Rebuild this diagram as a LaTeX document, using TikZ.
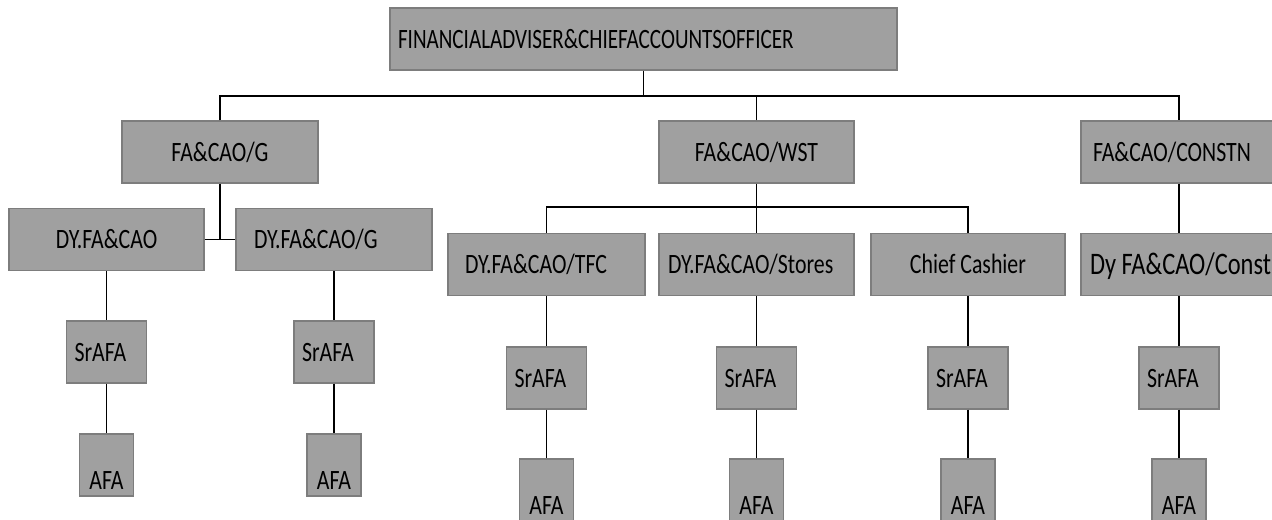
\documentclass[tikz,border=0pt]{standalone}
\usepackage{fontspec}
\setmainfont{Carlito}[FakeStretch=0.78]
\definecolor{boxfill}{RGB}{160,160,160}
\definecolor{boxline}{RGB}{125,125,125}
\tikzset{
  box/.style={draw=boxline, fill=boxfill, line width=1.1pt, inner ysep=0pt, inner xsep=0pt,
    minimum height=46.5pt, text height=13.5pt, text depth=0pt,
    font=\fontsize{21}{24}\selectfont, anchor=center},
  srbox/.style={box, minimum width=60pt, inner xsep=6pt},
  afabox/.style={box, minimum width=40.5pt, text height=36pt},
  link/.style={line width=1.1pt, black},
}
\begin{document}
\begin{tikzpicture}[x=0.75pt, y=-0.75pt]
\path[use as bounding box, clip] (0,0) rectangle (1272,519);
% level 0
\node[box, minimum width=380.25pt, inner xsep=6pt] (top) at (643.5,39)
  {\makebox[368.25pt][l]{\scalebox{0.966}[1]{FINANCIALADVISER\&CHIEFACCOUNTSOFFICER}}};
% level 1
\node[box, minimum width=147pt] (g) at (220,152) {FA\&CAO/G};
\node[box, minimum width=146.25pt] (wst) at (756.5,152) {FA\&CAO/WST};
\node[box, minimum width=147pt, inner xsep=9pt] (cn) at (1179,152)
  {\makebox[129pt][l]{FA\&CAO/CONSTN}};
% level 2, left branch
\node[box, minimum width=146.25pt] (dya) at (106.5,239.5) {DY.FA\&CAO};
\node[box, minimum width=147pt, inner xsep=13.5pt] (dyb) at (334,239.5)
  {\makebox[120pt][l]{DY.FA\&CAO/G}};
% level 2, middle and right
\node[box, minimum width=147.75pt, inner xsep=12.75pt] (tfc) at (546.5,264.5)
  {\makebox[122.25pt][l]{DY.FA\&CAO/TFC}};
\node[box, minimum width=146.25pt, inner xsep=6.75pt] (sto) at (756.5,264.5)
  {\makebox[132.75pt][l]{DY.FA\&CAO/Stores}};
\node[box, minimum width=145.5pt] (cash) at (968,264.5) {Chief Cashier};
\node[box, minimum width=147pt, inner xsep=6.75pt, font=\fontsize{23.5}{26}\selectfont, text height=15pt] (dyc) at (1179,264.5)
  {\makebox[133.5pt][l]{Dy FA\&CAO/Const}};
% SrAFA
\node[srbox] (sr1) at (106.5,352) {\makebox[48pt][l]{SrAFA}};
\node[srbox] (sr2) at (334,352) {\makebox[48pt][l]{SrAFA}};
\node[srbox] (sr3) at (546.5,378) {\makebox[48pt][l]{SrAFA}};
\node[srbox] (sr4) at (756.5,378) {\makebox[48pt][l]{SrAFA}};
\node[srbox] (sr5) at (968,378) {\makebox[48pt][l]{SrAFA}};
\node[srbox] (sr6) at (1179,378) {\makebox[48pt][l]{SrAFA}};
% AFA
\node[afabox] (af1) at (106.5,465) {AFA};
\node[afabox] (af2) at (334,465) {AFA};
\node[afabox] (af3) at (546.5,490) {AFA};
\node[afabox] (af4) at (756.5,490) {AFA};
\node[afabox] (af5) at (968,490) {AFA};
\node[afabox] (af6) at (1179,490) {AFA};
% connectors
\coordinate (j1) at (643.5,96);
\coordinate (j2) at (756.5,207);
\draw[link] (top.south) -- (j1);
\draw[link] (g.north) -- (g.north |- j1) -- (cn.north |- j1) -- (cn.north);
\draw[link] (wst.north) -- (wst.north |- j1);
\draw[link] (g.south) -- (g.south |- dya.east);
\draw[link] (dya.east) -- (dyb.west);
\draw[link] (wst.south) -- (j2);
\draw[link] (tfc.north) -- (tfc.north |- j2) -- (cash.north |- j2) -- (cash.north);
\draw[link] (sto.north) -- (sto.north |- j2);
\draw[link] (cn.south) -- (dyc.north);
\foreach \a/\b/\c in {dya/sr1/af1, dyb/sr2/af2, tfc/sr3/af3, sto/sr4/af4, cash/sr5/af5, dyc/sr6/af6}{
  \draw[link] (\a.south) -- (\b.north);
  \draw[link] (\b.south) -- (\c.north);
}
\end{tikzpicture}
\end{document}
